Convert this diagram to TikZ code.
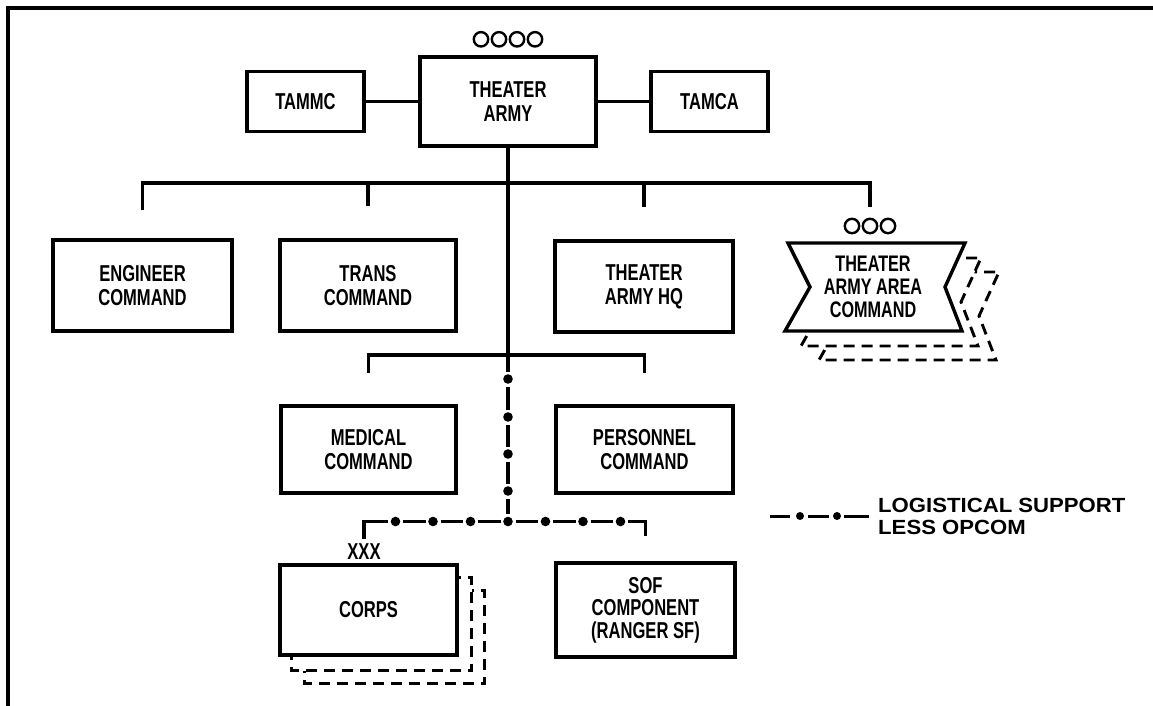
\documentclass[tikz,border=0pt]{standalone}
\usepackage{fontspec}
\setmainfont{Liberation Sans}
\newfontfamily\condfont[FakeStretch=0.72]{Liberation Sans}
\newfontfamily\legendfont[FakeStretch=1.08]{Liberation Sans}
\usetikzlibrary{calc,backgrounds}
\tikzset{
  unit/.style={draw, line width=3.4pt, fill=white, align=center, inner sep=0pt,
    font=\condfont\bfseries\fontsize{23}{24}\selectfont},
  link/.style={line width=3.4pt},
  logline/.style={line width=3.4pt},
  shadowbox/.style={draw, line width=2.9pt, dash pattern=on 11pt off 7pt, fill=white},
  rank/.style={line width=2.4pt},
}
\begin{document}
\begin{tikzpicture}[x=1pt, y=-1pt]
\useasboundingbox (0,0) rectangle (1153,706);
\draw[line width=4pt] (7.7,706) -- (7.7,7.7) -- (1153,7.7);

\node[unit, minimum width=176pt, minimum height=89pt] (army) at (508,101.5) {THEATER\\ARMY};
\node[unit, minimum width=117pt, minimum height=60pt] (tammc) at (305.5,101.5) {TAMMC};
\node[unit, minimum width=117pt, minimum height=60pt] (tamca) at (709.5,101.5) {TAMCA};
\foreach \i in {0,...,3}
  \draw[rank] ($(army.north)+(-27+18*\i,-16)$) circle (7.2pt);
\draw[link] (tammc) -- (army);
\draw[link] (army) -- (tamca);

\node[unit, minimum width=179pt, minimum height=91pt] (engr) at (142.5,285.5) {ENGINEER\\COMMAND};
\node[unit, minimum width=176pt, minimum height=91pt] (trans) at (368,285.5) {TRANS\\COMMAND};
\node[unit, minimum width=178pt, minimum height=91pt] (hq) at (644,286.5) {THEATER\\ARMY HQ};
\node[align=center, inner sep=0pt, font=\condfont\bfseries\fontsize{22.5}{23}\selectfont] (taac) at (873,287) {THEATER\\ARMY AREA\\COMMAND};
\foreach \i in {0,...,2}
  \draw[rank] ($(taac.center)+(-21+18*\i,-61)$) circle (7.2pt);

\node[unit, minimum width=175pt, minimum height=87pt] (medical) at (368.5,449.5) {MEDICAL\\COMMAND};
\node[unit, minimum width=177pt, minimum height=87pt] (personnel) at (644.5,449.5) {PERSONNEL\\COMMAND};

\node[unit, minimum width=177pt, minimum height=90pt] (corps) at (368.5,610) {CORPS};
\node[unit, minimum width=179pt, minimum height=94pt, font=\condfont\bfseries\fontsize{23}{22.5}\selectfont] (sof) at (645.5,610) {SOF\\COMPONENT\\(RANGER SF)};
\node[inner sep=1pt, font=\condfont\bfseries\fontsize{23}{24}\selectfont] (xxx) at (364,552) {XXX};

\begin{scope}[on background layer]
\draw[shadowbox] ([shift={(26,27)}]corps.north west) rectangle ([shift={(26,27)}]corps.south east);
\draw[shadowbox] ([shift={(13,14)}]corps.north west) rectangle ([shift={(13,14)}]corps.south east);
\draw[shadowbox, shift={(taac.center)}, xshift=34pt, yshift=-29pt]
  (-85,-44) -- (92,-44) -- (72,0) -- (89,44) -- (-88,44) -- (-63,0) -- cycle;
\draw[shadowbox, shift={(taac.center)}, xshift=16pt, yshift=-15pt]
  (-85,-44) -- (92,-44) -- (72,0) -- (89,44) -- (-88,44) -- (-63,0) -- cycle;
\draw[line width=3.4pt, fill=white, shift={(taac.center)}]
  (-85,-44) -- (92,-44) -- (72,0) -- (89,44) -- (-88,44) -- (-63,0) -- cycle;
\end{scope}

\coordinate (top) at (508,183);
\coordinate (mid) at (508,355);
\coordinate (taactop) at (870,207);
\draw[link] (army.south) -- (mid);
\draw[link] ([yshift=28pt]engr.north) |- (top) -| (taactop);
\draw[link] (top -| trans.north) -- ([yshift=32pt]trans.north);
\draw[link] (top -| hq.north) -- ([yshift=32pt]hq.north);
\draw[link] ([yshift=31pt]medical.north) |- (mid) -| ([yshift=31pt]personnel.north);

\coordinate (v1) at (508,379);
\coordinate (v2) at (508,417);
\coordinate (v3) at (508,454);
\coordinate (v4) at (508,491);
\coordinate (j) at (508,521.5);
\coordinate (h1) at (395.5,521.5);
\coordinate (h2) at (433,521.5);
\coordinate (h3) at (470.5,521.5);
\coordinate (h5) at (545.5,521.5);
\coordinate (h6) at (583,521.5);
\coordinate (h7) at (620.5,521.5);
\draw[logline, shorten >=7pt] (mid) -- (v1);
\foreach \a/\b in {v1/v2,v2/v3,v3/v4,v4/j,h1/h2,h2/h3,h3/j,j/h5,h5/h6,h6/h7}
  \draw[logline, shorten <=7.5pt, shorten >=7.5pt] (\a) -- (\b);
\draw[logline, shorten >=7.5pt] ([yshift=4pt]xxx.north) |- (h1);
\draw[logline, shorten <=7.5pt] (h7) -| ([yshift=25pt]sof.north);
\foreach \d in {v1,v2,v3,v4,j,h1,h2,h3,h5,h6,h7}
  \fill (\d) circle (4.8pt);

\coordinate (la) at (770,516);
\coordinate (lb) at (800,516);
\coordinate (lc) at (837,516);
\coordinate (ld) at (869,516);
\node[anchor=west, align=left, inner sep=0pt, font=\legendfont\bfseries\fontsize{20.5}{22}\selectfont] (legend) at (878,516) {LOGISTICAL SUPPORT\\LESS OPCOM};
\draw[logline, line width=3pt, shorten >=10pt] (la) -- (lb);
\draw[logline, line width=3pt, shorten <=8pt, shorten >=8pt] (lb) -- (lc);
\draw[logline, line width=3pt, shorten <=7pt] (lc) -- (ld);
\fill (lb) circle (4pt) (lc) circle (4pt);
\end{tikzpicture}
\end{document}
